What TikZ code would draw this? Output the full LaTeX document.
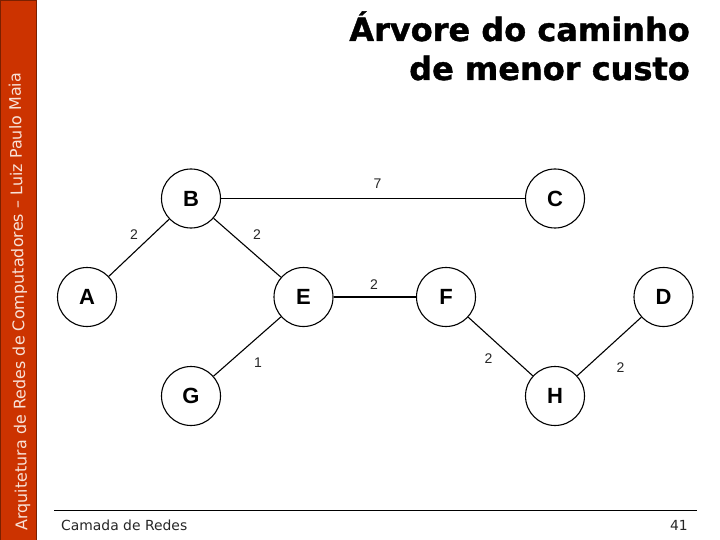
\documentclass[tikz,border=0pt]{standalone}
\usepackage{fontspec}
\setmainfont{DejaVu Sans}
\newfontfamily\arialf{Liberation Sans}
\newfontfamily\titlef[FakeBold=1.2]{DejaVu Sans Bold}
\definecolor{sidebar}{HTML}{CC3300}
\definecolor{sideedge}{HTML}{7A2000}
\definecolor{sidetext}{HTML}{F8E2D8}
\tikzset{
  netnode/.style={circle,draw=black,line width=1.1pt,fill=white,minimum size=59pt,inner sep=0pt,font=\arialf\bfseries\fontsize{22}{22}\selectfont},
  netlink/.style={draw=black,line width=1.1pt},
  cost/.style={inner sep=0pt,font=\arialf\fontsize{14}{14}\selectfont,text=black!85},
  titletext/.style={inner sep=0pt,anchor=base east,font=\titlef\fontsize{32}{32}\selectfont},
  foot/.style={inner sep=0pt,font=\fontsize{13.9}{13.9}\selectfont,text=black!85}
}
\begin{document}
\begin{tikzpicture}[x=1pt,y=-1pt]
\useasboundingbox (0,0) rectangle (720,540);
\fill[white] (0,0) rectangle (720,540);
\filldraw[fill=sidebar,draw=sideedge,line width=0.8pt] (0.4,0.4) rectangle (36,540);
\node[rotate=90.87,anchor=base west,inner sep=0pt,text=sidetext,font=\fontsize{16}{16}\selectfont] (side) at (27.5,531) {Arquitetura de Redes de Computadores -- Luiz Paulo Maia};
\node[titletext] (t1) at (690,41) {Árvore do caminho};
\node[titletext] (t2) at (690,80) {de menor custo};
\node[netnode] (B) at (191,198.5) {B};
\node[netnode] (C) at (555,198.5) {C};
\node[netnode] (A) at (87,297) {A};
\node[netnode] (E) at (303.5,297) {E};
\node[netnode] (F) at (446,297) {F};
\node[netnode] (D) at (663.5,297) {D};
\node[netnode] (G) at (191,396) {G};
\node[netnode] (H) at (555,396) {H};
\draw[netlink] (B) -- (C);
\draw[netlink] (B) -- (A);
\draw[netlink] (B) -- (E);
\draw[netlink] (E) -- (F);
\draw[netlink] (E) -- (G);
\draw[netlink] (F) -- (H);
\draw[netlink] (H) -- (D);
\node[cost] (c1) at (377.5,184) {7};
\node[cost] (c2) at (134,235) {2};
\node[cost] (c3) at (257,235) {2};
\node[cost] (c4) at (374,284.5) {2};
\node[cost] (c5) at (258,362.5) {1};
\node[cost] (c6) at (488.5,359) {2};
\node[cost] (c7) at (620.5,367.5) {2};
\coordinate (r1) at (54,510.5);
\coordinate (r2) at (697,510.5);
\draw[black,line width=0.9pt] (r1) -- (r2);
\node[foot,anchor=west] (f1) at (61,525) {Camada de Redes};
\node[foot,anchor=east] (f2) at (688,525) {41};
\end{tikzpicture}
\end{document}
